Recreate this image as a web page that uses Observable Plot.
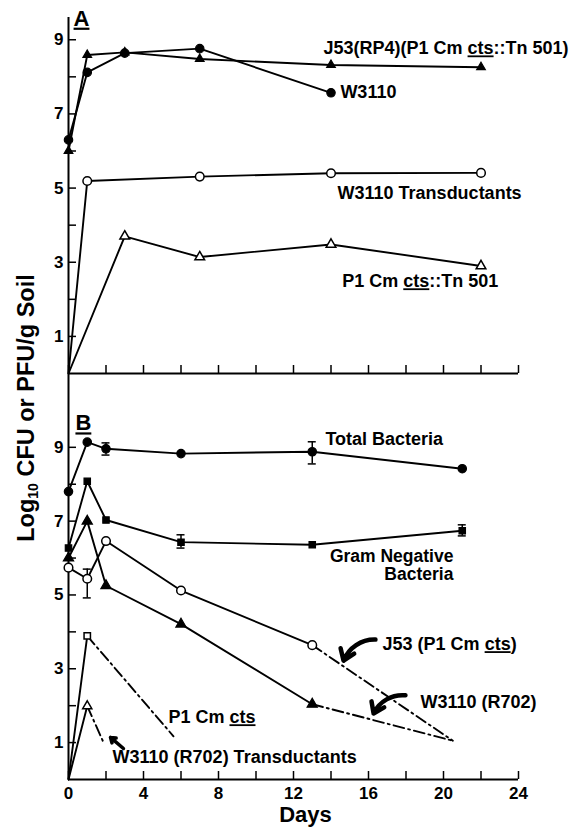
<!DOCTYPE html>
<html><head><meta charset="utf-8">
<script src="https://cdn.jsdelivr.net/npm/d3@7"></script>
<script src="https://cdn.jsdelivr.net/npm/@observablehq/plot@0.6"></script>
<style>
body{margin:0;background:#fff;}
#wrap{position:relative;width:575px;height:832px;overflow:hidden;background:#fff;font-family:"Liberation Sans",Arial,sans-serif;color:#000;}
#wrap svg{position:absolute;left:0;}
#ylab{position:absolute;left:27px;top:408px;transform:translate(-50%,-50%) rotate(-90deg);white-space:nowrap;font-weight:bold;font-size:23.5px;line-height:1;}
#ylab sub{font-size:14px;vertical-align:-4px;}
</style></head><body><div id="wrap"><div id="ylab">Log<sub>10</sub> CFU or PFU/g Soil</div></div>
<script>
// ---------- Panel A series: [day, log10 value] ----------
const aJ53RP4     = [[0,6.0],[1,8.59],[3,8.66],[7,8.48],[14,8.32],[22,8.26]];
const aW3110      = [[0,6.3],[1,8.12],[3,8.64],[7,8.76],[14,7.57]];
const aW3110Trans = [[0,0],[1,5.19],[7,5.31],[14,5.40],[22,5.41]];
const aP1Tn501    = [[0,0],[3,3.70],[7,3.14],[14,3.48],[22,2.90]];

// ---------- Panel B series ----------
const bTotal      = [[0,7.8],[1,9.14],[2,8.96],[6,8.83],[13,8.88],[21,8.42]];
const bGramNeg    = [[0,6.27],[1,8.08],[2,7.03],[6,6.43],[13,6.36],[21,6.74]];
const bW3110R702  = [[0,6.0],[1,7.0],[2,5.25],[6,4.21],[13,2.04]];
const bJ53P1      = [[0,5.74],[1,5.44],[2,6.46],[6,5.12],[13,3.64]];
const bP1         = [[0,0],[1,3.89]];
const bR702Trans  = [[0,0],[1,1.99]];
// dash-dot extrapolated declines
const bW3110R702Ext = [[13,2.04],[20.5,1.05]];
const bJ53P1Ext     = [[13,3.64],[20.5,1.05]];
const bP1Ext        = [[1,3.89],[5.6,1.17]];
const bR702TransExt = [[1,1.99],[1.87,1.0]];
// error bars: [day, low, high]
const bTotalErr   = [[2,8.79,9.12],[13,8.55,9.15]];
const bGramNegErr = [[6,6.27,6.63],[21,6.6,6.9]];
const bJ53P1Err   = [[1,4.92,5.70]];

// ---------- ticks ----------
const xTicks = [0,2,4,6,8,10,12,14,16,18,20,22,24];
const xTickLabels = [0,4,8,12,16,20,24];
const yTicks = [1,2,3,4,5,6,7,8,9];
const yTickLabels = [1,3,5,7,9];

// ---------- annotations: [day, value, text] ----------
const annA = [
  [13.6, 8.76, "J53(RP4)(P1 Cm cts::Tn 501)"],
  [14.5, 7.58, "W3110"],
  [14.35, 4.85, "W3110 Transductants"],
  [14.6, 2.48, "P1 Cm cts::Tn 501"]
];
const annB = [
  [13.7, 9.21, "Total Bacteria"],
  [16.75, 3.66, "J53 (P1 Cm cts)"],
  [18.77, 2.09, "W3110 (R702)"],
  [5.33, 1.68, "P1 Cm cts"],
  [2.35, 0.60, "W3110 (R702) Transductants"]
];
const annBEnd = [[20.53, 6.05, "Gram Negative"], [20.53, 5.56, "Bacteria"]];
const panelTags = {A: [0.27, 9.57, "A"], B: [0.37, 9.65, "B"]};
// arrows: [x1, y1, x2, y2]
const arrowsBCurved = [
  [16.37, 3.79, 14.67, 3.22],
  [17.97, 2.28, 16.27, 1.79]
];
const arrowsBStraight = [[2.93, 0.84, 2.24, 1.14]];

const X = d => d[0], Y = d => d[1];
const FONT = "Liberation Sans, Arial, sans-serif";
const DASH = "11,4,2,4";

function frame(showXLabels) {
  const m = [
    Plot.axisY({ticks: yTicks, tickSize: -8, tickFormat: () => "", strokeWidth: 1.5, label: null}),
    Plot.axisY({ticks: yTickLabels, tickSize: 0, tickPadding: 5, fontSize: 17, fontWeight: "bold", label: null}),
    Plot.axisX({ticks: xTicks, tickSize: -8, tickFormat: () => "", strokeWidth: 1.5, label: null}),
    Plot.ruleX([0], {strokeWidth: 2}),
    Plot.ruleY([0], {strokeWidth: 2})
  ];
  if (showXLabels) m.push(Plot.axisX({ticks: xTickLabels, tickSize: 0, tickPadding: 7, fontSize: 17, fontWeight: "bold", label: null}));
  return m;
}
const line = (d, o = {}) => Plot.line(d, {x: X, y: Y, stroke: "black", strokeWidth: 1.9, ...o});
const dot = (d, o = {}) => Plot.dot(d, {x: X, y: Y, r: 4, fill: "black", stroke: "black", strokeWidth: 1.2, ...o});
const openDot = (d, o = {}) => dot(d, {fill: "white", strokeWidth: 1.5, ...o});
const err = (d) => [
  Plot.ruleX(d, {x: X, y1: d => d[1], y2: d => d[2], strokeWidth: 1.5}),
  Plot.ruleY(d, {y: d => d[1], x1: X, x2: X, insetLeft: -4, insetRight: -4, strokeWidth: 1.5}),
  Plot.ruleY(d, {y: d => d[2], x1: X, x2: X, insetLeft: -4, insetRight: -4, strokeWidth: 1.5})
];
const labels = (d, o = {}) => Plot.text(d, {x: X, y: Y, text: d => d[2], textAnchor: "start", fontSize: 18, fontWeight: "bold", fill: "black", ...o});

function decorate(svg) {
  const ns = "http://www.w3.org/2000/svg";
  for (const t of svg.querySelectorAll("text")) {
    if (t.children.length) continue;
    const s = t.textContent;
    if (s === "A" || s === "B") { t.setAttribute("text-decoration", "underline"); continue; }
    const i = s.indexOf("cts");
    if (i < 0) continue;
    t.textContent = "";
    [s.slice(0, i), "cts", s.slice(i + 3)].forEach((p, k) => {
      const sp = document.createElementNS(ns, "tspan");
      sp.textContent = p;
      if (k === 1) sp.setAttribute("text-decoration", "underline");
      t.appendChild(sp);
    });
  }
  return svg;
}

const common = {width: 575, marginLeft: 68, marginRight: 57, x: {domain: [0, 24]},
  style: {fontFamily: FONT, background: "transparent", color: "black", overflow: "visible"}};

const plotA = Plot.plot({
  ...common, height: 380, marginTop: 17, marginBottom: 7,
  y: {domain: [0, 9.6]},
  marks: [
    ...frame(false),
    line(aJ53RP4), line(aW3110), line(aW3110Trans), line(aP1Tn501),
    dot(aJ53RP4, {symbol: "triangle", r: 3.2}),
    dot(aW3110, {r: 4.2}),
    openDot(aW3110Trans.slice(1), {r: 4.3}),
    openDot(aP1Tn501.slice(1), {symbol: "triangle", r: 3.6}),
    labels(annA),
    labels([panelTags.A], {fontSize: 22})
  ]
});
plotA.style.top = "0px";

const plotB = Plot.plot({
  ...common, height: 472, marginTop: 13, marginBottom: 53,
  y: {domain: [0, 11]},
  marks: [
    ...frame(true),
    line(bTotal), line(bGramNeg), line(bW3110R702), line(bJ53P1), line(bP1), line(bR702Trans),
    line(bW3110R702Ext, {strokeDasharray: DASH}), line(bJ53P1Ext, {strokeDasharray: DASH}),
    line(bP1Ext, {strokeDasharray: DASH}), line(bR702TransExt, {strokeDasharray: DASH}),
    ...err(bTotalErr), ...err(bGramNegErr), ...err(bJ53P1Err),
    dot(bTotal, {r: 4.2}),
    dot(bGramNeg, {symbol: "square", r: 3.6}),
    dot(bW3110R702, {symbol: "triangle", r: 3.8}),
    openDot(bJ53P1, {r: 4.3}),
    openDot(bP1.slice(1), {symbol: "square", r: 3.6}),
    openDot(bR702Trans.slice(1), {symbol: "triangle", r: 3.4}),
    Plot.arrow(arrowsBCurved, {x1: d => d[0], y1: d => d[1], x2: d => d[2], y2: d => d[3], bend: -35, strokeWidth: 4.5, headLength: 11, headAngle: 70, stroke: "black"}),
    Plot.arrow(arrowsBStraight, {x1: d => d[0], y1: d => d[1], x2: d => d[2], y2: d => d[3], strokeWidth: 3.5, headLength: 8, headAngle: 70, stroke: "black"}),
    labels(annB),
    labels(annBEnd, {textAnchor: "end", fontSize: 17.5}),
    labels([panelTags.B], {fontSize: 22}),
    Plot.text(["Days"], {frameAnchor: "bottom", dx: 12, dy: 42, fontSize: 22, fontWeight: "bold", fill: "black"})
  ]
});
plotB.style.top = "360px";

const wrap = document.getElementById("wrap");
wrap.appendChild(decorate(plotA));
wrap.appendChild(decorate(plotB));
</script></body></html>
